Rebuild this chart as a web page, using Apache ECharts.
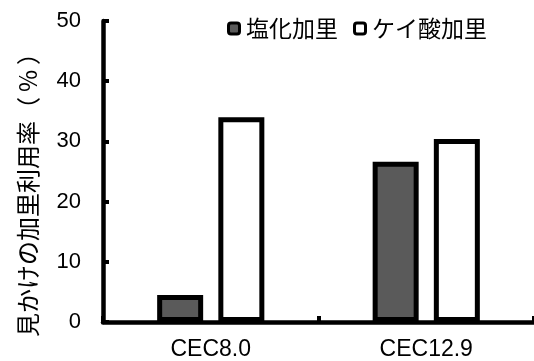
<!DOCTYPE html>
<html>
<head>
<meta charset="utf-8">
<script src="https://cdn.jsdelivr.net/npm/echarts@6/dist/echarts.min.js"></script>
<style>
  html, body { margin: 0; padding: 0; background: #ffffff; }
  #chart { width: 534px; height: 361px; }
</style>
</head>
<body>
<div id="chart"></div>
<script>
// Soil CEC classes on the category axis
const categories = ['CEC8.0', 'CEC12.9'];
// Apparent potassium use rate (%) per fertilizer
const seriesNames = ['塩化加里', 'ケイ酸加里'];
const kcl = [4.5, 26.6];
const kSilicate = [34.0, 30.4];
const yTicks = [0, 10, 20, 30, 40, 50];
const yTitleMain = '見かけの加里利用率（';
const yTitleUnit = '%';
const yTitleClose = '）';

const latin = '"Liberation Sans", Arial, sans-serif';
const cjk = '"Noto Sans CJK JP", "Liberation Sans", sans-serif';
const fills = ['#5a5a5a', '#ffffff'];

const titleFont = { fontFamily: cjk, fontSize: 24, color: '#000' };
const legendFont = { fontFamily: cjk, fontSize: 23, color: '#000' };
const swatch = (fill) => ({
  width: 8, height: 8, backgroundColor: fill,
  borderColor: '#000', borderWidth: 3, borderRadius: 1
});

const chart = echarts.init(document.getElementById('chart'), null, { renderer: 'canvas' });

chart.setOption({
  animation: false,
  backgroundColor: '#ffffff',
  grid: { left: 103, right: -7, top: 21, bottom: 39, containLabel: false },
  legend: {
    left: 220,
    top: 12,
    icon: 'none',
    itemWidth: 0,
    itemHeight: 12,
    itemGap: 13,
    data: seriesNames,
    formatter: (name) => '{s' + seriesNames.indexOf(name) + '|}{t|' + name + '}',
    textStyle: Object.assign({}, legendFont, {
      rich: {
        s0: swatch(fills[0]),
        s1: swatch(fills[1]),
        t: Object.assign({}, legendFont, { padding: [0, 0, 0, 8] })
      }
    })
  },
  xAxis: {
    type: 'category',
    data: categories,
    axisLine: { lineStyle: { color: '#000', width: 4.5 } },
    axisTick: { show: true, inside: true, length: 6, lineStyle: { color: '#000', width: 4 } },
    axisLabel: { color: '#000', fontFamily: latin, fontSize: 23, margin: 16 }
  },
  yAxis: {
    type: 'value',
    min: yTicks[0],
    max: yTicks[yTicks.length - 1],
    interval: yTicks[1] - yTicks[0],
    name: '{m|' + yTitleMain + '}{u|' + yTitleUnit + '}{m|' + yTitleClose + '}',
    nameLocation: 'middle',
    nameRotate: 90,
    nameGap: 63,
    nameTextStyle: Object.assign({}, titleFont, {
      padding: [0, 35, 0, 0],
      rich: {
        m: titleFont,
        u: Object.assign({}, titleFont, { padding: [0, 5, 0, 5] })
      }
    }),
    splitLine: { show: false },
    axisLine: { show: true, lineStyle: { color: '#000', width: 4.5 } },
    axisTick: { show: true, inside: true, length: 6, lineStyle: { color: '#000', width: 4 } },
    axisLabel: { color: '#000', fontFamily: latin, fontSize: 22, margin: 22 }
  },
  series: [
    {
      name: seriesNames[0],
      type: 'bar',
      data: kcl,
      barWidth: 46,
      barGap: '33%',
      itemStyle: { color: fills[0], borderColor: '#000', borderWidth: 5 }
    },
    {
      name: seriesNames[1],
      type: 'bar',
      data: kSilicate,
      barWidth: 46,
      barGap: '33%',
      itemStyle: { color: fills[1], borderColor: '#000', borderWidth: 5 }
    }
  ]
});
</script>
</body>
</html>
